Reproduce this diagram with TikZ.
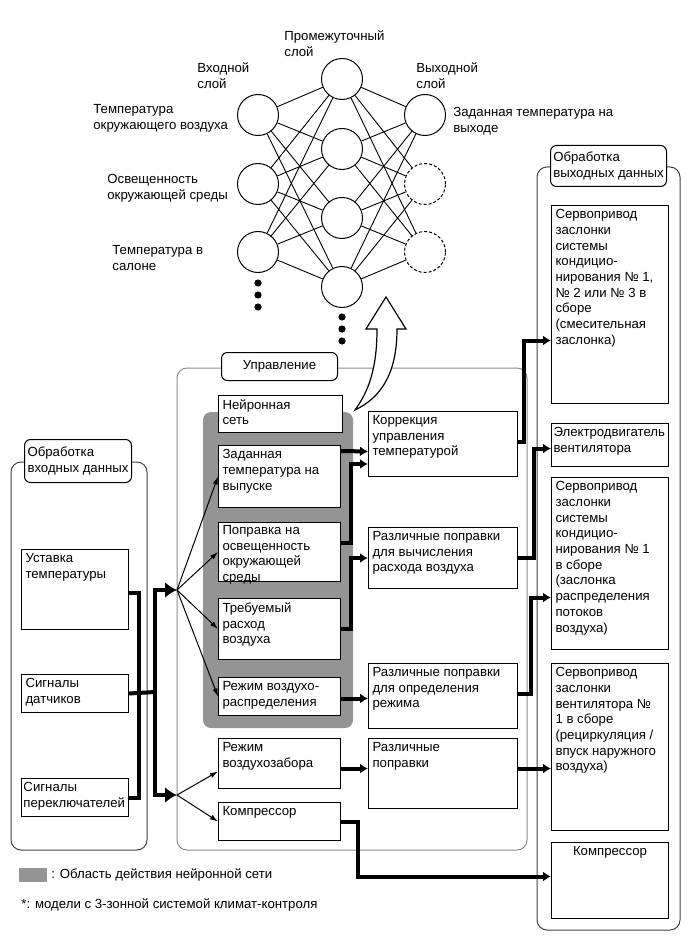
\documentclass[tikz,border=0pt]{standalone}
\usepackage{fontspec}
\setmainfont{Liberation Sans}
\usetikzlibrary{arrows.meta,calc}

\definecolor{nngray}{gray}{0.58}

% text of a box, set from its top left corner (sizes in px of the drawing)
\newcommand{\boxtxt}[3]{\parbox[c][\dimexpr#2pt/2-4pt\relax][t]{\dimexpr#1pt/2-4pt\relax}{\raggedright#3}}

\begin{document}
\begin{tikzpicture}[
    x=0.5pt, y=-0.5pt,
    font=\fontsize{6.6}{7.85}\selectfont,
    neuron/.style={circle, draw, minimum size=20.5pt, inner sep=0pt, line width=0.5pt},
    net/.style={line width=0.45pt},
    lbl/.style={anchor=west, align=left, inner sep=0pt},
    cell/.style={draw, fill=white, anchor=north west, inner sep=2pt, line width=0.5pt},
    tab/.style={draw, fill=white, rounded corners=3pt, anchor=north west, align=left, inner sep=0.5pt, line width=0.5pt},
    frame/.style={draw=black!75, rounded corners=5pt, line width=0.5pt},
    thin arr/.style={-{Latex[length=4pt,width=2.6pt]}, line width=0.5pt},
    thick arr/.style={-{Latex[length=4pt,width=5pt]}, line width=2pt},
    thick line/.style={line width=2pt},
    bus arr/.style={-{Latex[length=6pt,width=8pt]}, line width=2pt}
    ]
    \useasboundingbox (0,0) rectangle (690,952);

    % neural network
    \foreach \n/\y in {1/115, 2/184, 3/252}
        \node[neuron] (i\n) at (258,\y) {};
    \foreach \n/\y in {1/79, 2/149, 3/218, 4/287}
        \node[neuron] (h\n) at (342,\y) {};
    \node[neuron] (o1) at (425,115) {};
    \node[neuron, dash pattern=on 1.5pt off 1pt] (o2) at (425,184) {};
    \node[neuron, dash pattern=on 1.5pt off 1pt] (o3) at (425,252) {};
    \foreach \a in {1,2,3}
        \foreach \b in {1,2,3,4} {
            \draw[net] (i\a) -- (h\b);
            \draw[net] (h\b) -- (o\a);
        }
    \foreach \y in {283,295,307}
        \fill (258,\y) circle[radius=1.8pt];
    \foreach \y in {317,329,341}
        \fill (342,\y) circle[radius=1.8pt];

    \node[lbl] (lhid) at (284,44) {Промежуточный\\слой};
    \node[lbl] (lin) at (197,76) {Входной\\слой};
    \node[lbl] (lout) at (416,76) {Выходной\\слой};
    \node[lbl] (lt1) at (93,118) {Температура\\окружающего воздуха};
    \node[lbl] (lt2) at (107,188) {Освещенность\\окружающей среды};
    \node[lbl] (lt3) at (112,258) {Температура в\\салоне};
    \node[lbl] (lres) at (453,121) {Заданная температура на\\выходе};

    % frames
    \draw[frame] (11,462) rectangle (147,850);
    \draw[frame, draw=black!45] (177,368) rectangle (527,850);
    \draw[frame] (537,167) rectangle (680,930);

    \node[tab, minimum width=53.5pt, minimum height=21.5pt] (tabin) at (24,439) {Обработка\\входных данных};
    \node[tab, minimum width=58pt, minimum height=14pt, align=center] (tabctl) at (221,352) {Управление};
    \node[tab, minimum width=58pt, minimum height=20.5pt] (tabout) at (550,145) {Обработка\\выходных данных};

    % area of the neural network
    \fill[nngray, rounded corners=4pt] (203,412) rectangle (353,728);

    % input
    \node[cell] (ust) at (21,549) {\boxtxt{107}{80}{Уставка\\температуры}};
    \node[cell] (dat) at (21,674) {\boxtxt{107}{38}{Сигналы\\датчиков}};
    \node[cell, inner xsep=1pt] (per) at (21,778) {\boxtxt{111}{38}{Сигналы\\переключателей}};

    % control
    \node[cell] (nn) at (218,395) {\boxtxt{124}{37}{Нейронная\\сеть}};
    \node[cell] (zadT) at (218,445) {\boxtxt{122}{62}{Заданная\\температура на\\выпуске}};
    \node[cell, inner ysep=1.5pt] (popr) at (218,522) {\boxtxt{122}{61}{Поправка на\\освещенность\\окружающей\\среды}};
    \node[cell] (treb) at (218,598) {\boxtxt{122}{61}{Требуемый\\расход\\воздуха}};
    \node[cell] (rezhR) at (218,677) {\boxtxt{122}{38}{Режим воздухо-\\распределения}};
    \node[cell] (rezhZ) at (218,738) {\boxtxt{122}{50}{Режим\\воздухозабора}};
    \node[cell] (komp) at (218,802) {\boxtxt{122}{38}{Компрессор}};
    \node[cell] (korr) at (368,411) {\boxtxt{149}{65}{Коррекция\\управления\\температурой}};
    \node[cell] (rasch) at (368,527) {\boxtxt{149}{61}{Различные поправки\\для вычисления\\расхода воздуха}};
    \node[cell] (opred) at (368,663) {\boxtxt{149}{65}{Различные поправки\\для определения\\режима}};
    \node[cell] (razl) at (368,738) {\boxtxt{149}{70}{Различные\\поправки}};

    % output
    \node[cell] (srv1) at (551,205) {\boxtxt{117}{198}{Сервопривод\\заслонки\\системы\\кондицио-\\нирования №~1,\\№~2 или №~3 в\\сборе\\(смесительная\\заслонка)}};
    \node[cell, inner xsep=1pt] (elec) at (551,423) {\boxtxt{121}{43}{Электродвигатель\\вентилятора}};
    \node[cell] (srv3) at (551,477) {\boxtxt{117}{172}{Сервопривод\\заслонки\\системы\\кондицио-\\нирования №~1\\в сборе\\(заслонка\\распределения\\потоков\\воздуха)}};
    \node[cell] (srv4) at (551,663) {\boxtxt{117}{167}{Сервопривод\\заслонки\\вентилятора №\\1 в сборе\\(рециркуляция /\\впуск наружного\\воздуха)}};
    \node[cell] (kompO) at (551,842) {\boxtxt{117}{76}{\centering Компрессор}};

    % signals in
    \coordinate (fanA) at (177,590);
    \coordinate (fanB) at (177,795);
    \coordinate (bus) at (155,692);
    \draw[thick line] ($(ust.east)+(0,3)$) -- ++(10,0) |- (per.east);
    \draw[thick line] (dat.east) -- (bus);
    \draw[bus arr] (bus) |- (fanA);
    \draw[bus arr] (bus) |- (fanB);

    \foreach \t in {zadT, popr, treb, rezhR}
        \draw[thin arr] (fanA) -- (\t.west);
    \draw[thin arr] (fanB) -- ($(rezhZ.west)+(0,8)$);
    \draw[thin arr] (fanB) -- (komp.west);

    % control to output
    \draw[thick arr] ($(zadT.north east)+(0,6)$) -- ($(korr.west)+(0,7.5)$);
    \draw[thick arr] ($(popr.north east)+(0,21)$) -- ++(10,0) |- ($(korr.west)+(0,20)$);
    \draw[thick arr] (treb.east) -- ++(10,0) |- (rasch.west);
    \draw[thick arr] ($(rezhR.east)+(0,2)$) -- ($(opred.west)+(0,2.5)$);
    \draw[thick arr] ($(rezhZ.east)+(0,5)$) -- ($(razl.west)+(0,-5)$);
    \draw[thick arr] (komp.east) -- ++(17,0) |- ($(kompO.west)+(0,-4)$);
    \draw[thick arr] ($(korr.east)+(0,-2.5)$) -- ++(6,0) |- ($(srv1.west)+(0,36)$);
    \draw[thick arr] (rasch.east) -- ++(16,0) |- ($(elec.west)+(0,3.5)$);
    \draw[thick arr] ($(opred.east)+(0,-2.5)$) -- ++(13,0) |- ($(srv3.west)+(0,34)$);
    \draw[thick arr] ($(razl.east)+(0,-5)$) -- ($(srv4.west)+(0,21.5)$);

    % hollow arrow up to the network
    \draw[fill=white, line width=0.6pt] (355,410) .. controls (368,392) and (377,370) .. (377,329)
        -- (366,329) -- (386,297) -- (406,329) -- (397,329)
        .. controls (397,375) and (380,398) .. (355,410) -- cycle;

    % legend
    \fill[nngray] (19,868) rectangle (47,882);
    \node[lbl] (legtxt) at (51,875) {: Область действия нейронной сети};
    \node[lbl] (note) at (21,905) {*: модели с 3-зонной системой климат-контроля};
\end{tikzpicture}
\end{document}
